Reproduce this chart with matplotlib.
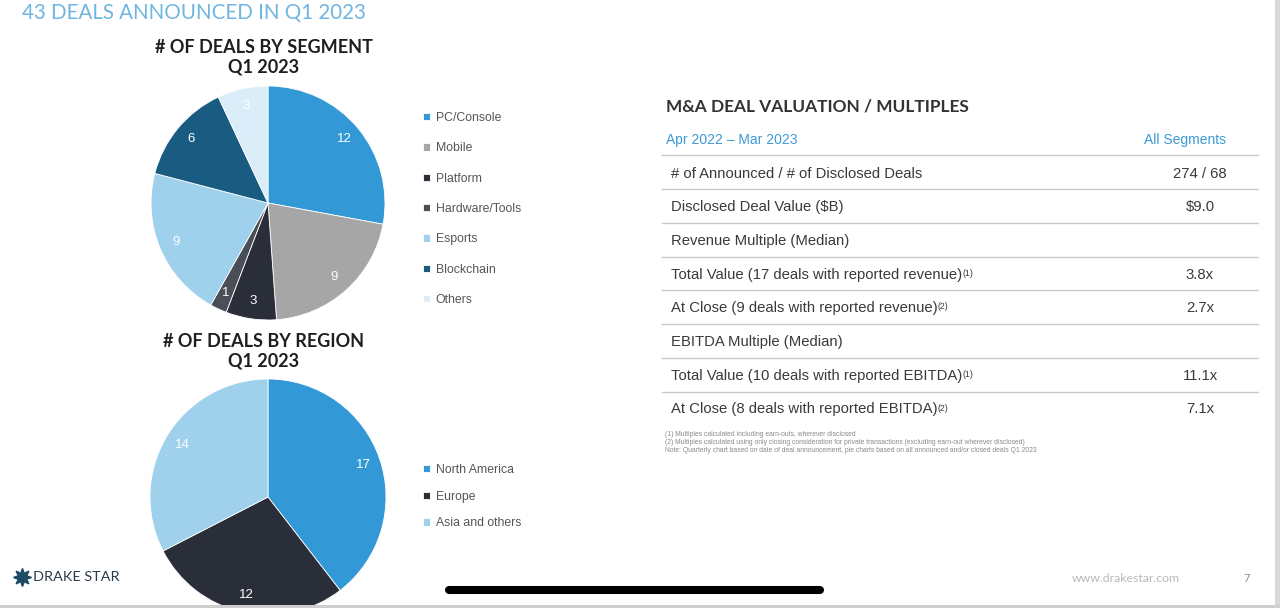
import matplotlib
matplotlib.use("Agg")
import matplotlib.pyplot as plt
from matplotlib.patches import Rectangle

W, H = 1280, 608

# ---------------- data ----------------
seg_labels = ["PC/Console", "Mobile", "Platform", "Hardware/Tools", "Esports", "Blockchain", "Others"]
seg_values = [12, 9, 3, 1, 9, 6, 3]
seg_colors = ["#3399d6", "#a6a6a6", "#2a2e38", "#4a4f57", "#9fd0ec", "#1a5b82", "#daedf8"]

reg_labels = ["North America", "Europe", "Asia and others"]
reg_values = [17, 12, 14]
reg_colors = ["#3399d6", "#2a2e38", "#9fd0ec"]

row_labels = ["# of Announced / # of Disclosed Deals",
              "Disclosed Deal Value ($B)",
              "Revenue Multiple (Median)",
              "Total Value (17 deals with reported revenue)",
              "At Close (9 deals with reported revenue)",
              "EBITDA Multiple (Median)",
              "Total Value (10 deals with reported EBITDA)",
              "At Close (8 deals with reported EBITDA)"]
row_notes = ["", "", "", "(1)", "(2)", "", "(1)", "(2)"]
row_values = ["274 / 68", "$9.0", "", "3.8x", "2.7x", "", "11.1x", "7.1x"]

footnotes = ["(1) Multiples calculated including earn-outs, wherever disclosed",
             "(2) Multiples calculated using only closing consideration for private transactions (excluding earn-out wherever disclosed)",
             "Note: Quarterly chart based on date of deal announcement, pie charts based on all announced and/or closed deals Q1 2023"]

fig = plt.figure(figsize=(W / 100, H / 100), dpi=100)
fig.patch.set_facecolor("white")

# pixel-coordinate overlay axes
bg = fig.add_axes([0, 0, 1, 1])
bg.set_xlim(0, W)
bg.set_ylim(H, 0)
bg.axis("off")
bg.patch.set_alpha(0)

def pie_axes(cx, cy, r):
    return fig.add_axes([(cx - r) / W, 1 - (cy + r) / H, 2 * r / W, 2 * r / H])

# ---------------- segment pie ----------------
ax1 = pie_axes(268, 203, 117)
w1, t1 = ax1.pie(seg_values, colors=seg_colors, startangle=90, counterclock=False,
                 labels=[str(v) for v in seg_values], labeldistance=0.85,
                 wedgeprops=dict(edgecolor="white", linewidth=0.6),
                 textprops=dict(color="white", fontsize=9.5, family="Liberation Sans", ha="center", va="center"))
ax1.set_xlim(-1, 1); ax1.set_ylim(-1, 1)

# ---------------- region pie ----------------
ax2 = pie_axes(268, 497, 118)
w2, t2 = ax2.pie(reg_values, colors=reg_colors, startangle=90, counterclock=False,
                 labels=[str(v) for v in reg_values], labeldistance=0.85,
                 wedgeprops=dict(edgecolor="white", linewidth=0.6),
                 textprops=dict(color="white", fontsize=9.5, family="Liberation Sans", ha="center", va="center"))
ax2.set_xlim(-1, 1); ax2.set_ylim(-1, 1)

# legends
leg_kw = dict(loc="upper left", frameon=False, handlelength=0.55, handleheight=0.55,
              handletextpad=0.5, borderpad=0, borderaxespad=0, labelcolor="#555555",
              prop=dict(family="Liberation Sans", size=8.8))
fig.legend(w1, seg_labels, bbox_to_anchor=(423 / W, 1 - 112 / H), labelspacing=1.5, **leg_kw)
fig.legend(w2, reg_labels, bbox_to_anchor=(423 / W, 1 - 464 / H), labelspacing=1.2, **leg_kw)

# ---------------- titles ----------------
bg.text(22, 13, "43 DEALS ANNOUNCED IN Q1 2023", color="#6fb5e2", fontsize=14.8,
        family="Lato", ha="left", va="center")
for y0, title in [(57, "# OF DEALS BY SEGMENT\nQ1 2023"), (351, "# OF DEALS BY REGION\nQ1 2023")]:
    bg.text(264, y0, title, color="#1e1e1e", fontsize=13, family="Lato", weight="bold",
            ha="center", va="center", linespacing=1.18)

# ---------------- table ----------------
bg.text(666, 107, "M&A DEAL VALUATION / MULTIPLES", color="#333333", fontsize=12.4,
        family="Lato", weight="bold", ha="left", va="center")
bg.text(666, 140, "Apr 2022 \u2013 Mar 2023", color="#3d9ad6", fontsize=10,
        family="Liberation Sans", ha="left", va="center")
bg.text(1185, 140, "All Segments", color="#3d9ad6", fontsize=10,
        family="Liberation Sans", ha="center", va="center")

line_c = "#c8c8c8"
bg.plot([662, 1258], [155, 155], color=line_c, lw=1)
row_y0, row_dy = 173.5, 33.7
for i, (lab, note, val) in enumerate(zip(row_labels, row_notes, row_values)):
    y = row_y0 + i * row_dy
    t = bg.text(671, y, lab, color="#3a3a3a", fontsize=10.7, family="Liberation Sans",
                ha="left", va="center")
    if note:
        bg.annotate(note, xy=(1.0, 0.92), xycoords=t, ha="left", va="top",
                    fontsize=6.3, color="#3a3a3a", family="Liberation Sans")
    if val:
        bg.text(1200, y, val, color="#3a3a3a", fontsize=10.7, family="Liberation Sans",
                ha="center", va="center")
    if i < len(row_labels) - 1:
        yl = y - 1 + row_dy / 2
        bg.plot([662, 1258], [yl, yl], color=line_c, lw=1)

for i, fn in enumerate(footnotes):
    bg.text(665, 435 + i * 8, fn, color="#8a8a8a", fontsize=4.85,
            family="Liberation Sans", ha="left", va="center")

# ---------------- footer ----------------
bg.plot([22], [577], marker=(8, 1, 0), markersize=13, color="#1f4a66", mec="#1f4a66")
bg.text(33, 577, "DRAKE STAR", color="#2b3947", fontsize=10.4, family="Lato",
        ha="left", va="center")
bg.text(1126, 578, "www.drakestar.com", color="#b8b8b8", fontsize=8.8,
        family="Lato", ha="center", va="center")
bg.text(1247, 578, "7", color="#8a8a8a", fontsize=8, family="Lato", ha="center", va="center")

# home indicator bar
fig.add_artist(plt.Line2D([449 / W, 820 / W], [1 - 590 / H, 1 - 590 / H], color="black",
                          lw=5.8, solid_capstyle="round", zorder=20))
# screenshot borders
fig.add_artist(Rectangle((1275 / W, 0), 5 / W, 1, transform=fig.transFigure,
                         facecolor="#d9d9d9", edgecolor="none", zorder=20))
fig.add_artist(Rectangle((0, 0), 1, 3 / H, transform=fig.transFigure,
                         facecolor="#cfcfcf", edgecolor="none", zorder=20))

fig.savefig("out.png", dpi=100)
